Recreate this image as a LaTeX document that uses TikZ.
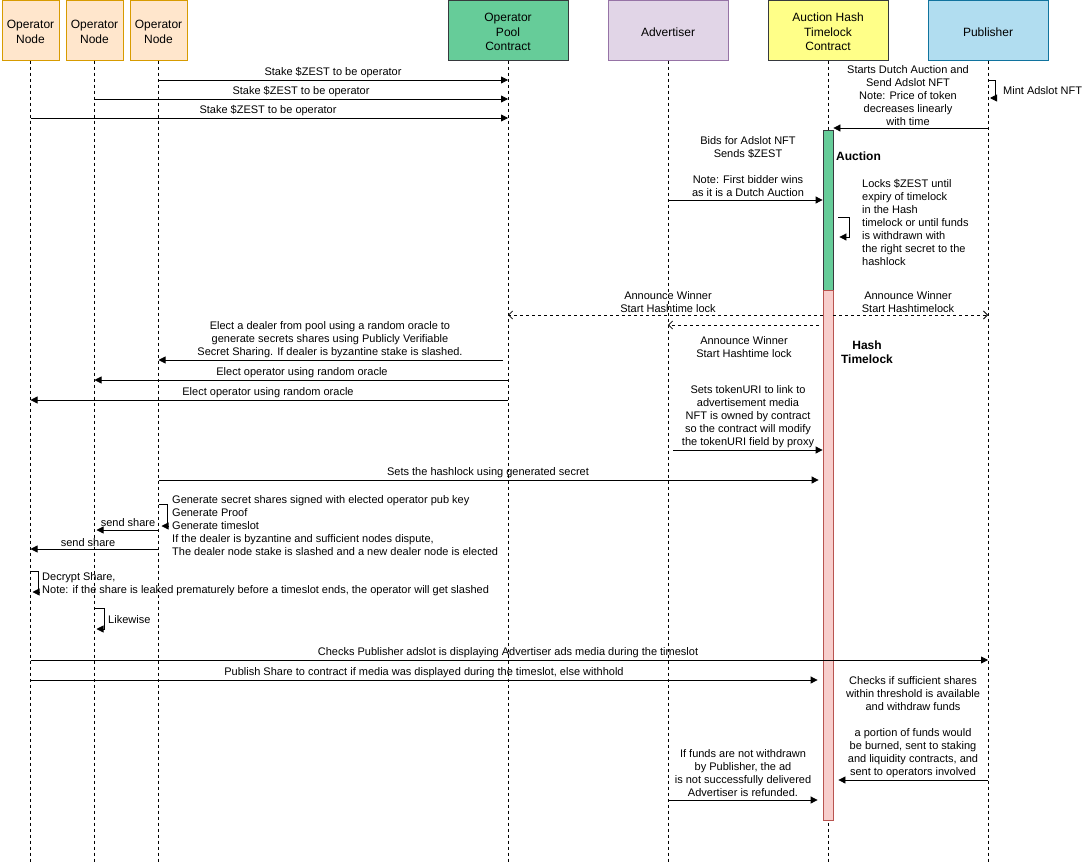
\documentclass[tikz,border=0pt]{standalone}
\usepackage{fontspec}
\setmainfont{Liberation Sans}
\usetikzlibrary{arrows.meta,calc}
\definecolor{opfill}{HTML}{FFE6CC}
\definecolor{opdraw}{HTML}{D79B00}
\definecolor{greenfill}{HTML}{66CC99}
\definecolor{darkline}{HTML}{36393D}
\definecolor{advfill}{HTML}{E1D5E7}
\definecolor{advdraw}{HTML}{9673A6}
\definecolor{yelfill}{HTML}{FFFF88}
\definecolor{pubfill}{HTML}{B1DDF0}
\definecolor{pubdraw}{HTML}{10739E}
\definecolor{redfill}{HTML}{F8CECC}
\definecolor{reddraw}{HTML}{B85450}
\begin{document}
\begin{tikzpicture}[x=1pt,y=-1pt,
  head/.style={draw, line width=1pt, minimum height=60pt, inner sep=0pt},
  headtxt/.style={align=center, inner sep=0pt, yshift=-2pt, font=\fontsize{12}{14.4}\selectfont},
  life/.style={line width=0.8pt, dash pattern=on 3pt off 3pt},
  msg/.style={line width=0.8pt, -{Triangle[length=7pt,width=7pt]}},
  ret/.style={line width=0.8pt, dash pattern=on 3pt off 3pt, -{Straight Barb[length=4pt,width=8pt]}},
  lbl/.style={font=\fontsize{11}{13}\selectfont, align=center, inner sep=0pt, yshift=-2pt},
  lbll/.style={lbl, align=left, anchor=west},
  boldlbl/.style={font=\fontsize{12}{14}\selectfont\bfseries, align=center, inner sep=0pt, yshift=-1pt}]
\useasboundingbox (0,0) rectangle (1083,862);
% headers
\node[head, fill=opfill, draw=opdraw, minimum width=57pt, label={[headtxt]center:{Operator\\Node}}] (n1) at (30.5,30) {};
\node[head, fill=opfill, draw=opdraw, minimum width=57pt, label={[headtxt]center:{Operator\\Node}}] (n2) at (94.5,30) {};
\node[head, fill=opfill, draw=opdraw, minimum width=57pt, label={[headtxt]center:{Operator\\Node}}] (n3) at (158.5,30) {};
\node[head, fill=greenfill, draw=darkline, minimum width=120pt, label={[headtxt]center:{Operator\\Pool\\Contract}}] (pool) at (508,30) {};
\node[head, fill=advfill, draw=advdraw, minimum width=120pt, label={[headtxt]center:{Advertiser}}] (adv) at (668,30) {};
\node[head, fill=yelfill, draw=darkline, minimum width=120pt, label={[headtxt]center:{Auction Hash\\Timelock\\Contract}}] (auc) at (828,30) {};
\node[head, fill=pubfill, draw=pubdraw, minimum width=120pt, label={[headtxt]center:{Publisher}}] (pub) at (988,30) {};
% lifelines
\foreach \n in {n1,n2,n3,pool,adv,auc,pub}
  \draw[life] (\n.south) -- (\n.south |- 0,862);
% activation bars
\node[draw=darkline, fill=greenfill, line width=0.8pt, minimum width=10pt, minimum height=160pt, inner sep=0pt, anchor=north] (act1) at (828,130) {};
\node[draw=reddraw, fill=redfill, line width=0.8pt, minimum width=10pt, minimum height=530pt, inner sep=0pt, anchor=north] (act2) at (828,290) {};
% staking
\draw[msg] (n3.south |- 0,80) -- (pool.south |- 0,80);
\node[lbl] (l1) at (333,71) {Stake \$ZEST to be operator};
\draw[msg] (n2.south |- 0,99) -- (pool.south |- 0,99);
\node[lbl] (l2) at (301,90) {Stake \$ZEST to be operator};
\draw[msg] (n1.south |- 0,118) -- (pool.south |- 0,118);
\node[lbl] (l3) at (268,109) {Stake \$ZEST to be operator};
% mint
\draw[msg] (pub.south |- 0,80) -- ++(7,0) -- ++(0,18) -- ++(-5,0);
\node[lbll] (l4) at (1003,89) {Mint Adslot NFT};
\draw[msg] (pub.south |- 0,128) -- (act1.east |- 0,128);
\node[lbl] (l5) at (908,94) {Starts Dutch Auction and\\Send Adslot NFT\\Note: Price of token\\decreases linearly\\with time};
% bids
\draw[msg] (adv.south |- 0,200) -- (act1.west |- 0,200);
\node[lbl] (l6) at (748,165) {Bids for Adslot NFT\\Sends \$ZEST\\\mbox{}\\Note: First bidder wins\\as it is a Dutch Auction};
\node[boldlbl, anchor=west] (l7) at (836,155) {Auction};
\draw[msg] ($(act1.east |- 0,217)+(5,0)$) -- ++(11,0) -- ++(0,20) -- ++(-10,0);
\node[lbll] (l8) at (862,220) {Locks \$ZEST until\\expiry of timelock\\in the Hash\\timelock or until funds\\is withdrawn with\\the right secret to the\\hashlock};
% announce
\draw[ret] (act2.west |- 0,315) -- (pool.south |- 0,315);
\node[lbl] (l9) at (668,300) {Announce Winner\\Start Hashtime lock};
\draw[ret] (act2.east |- 0,315) -- (pub.south |- 0,315);
\node[lbl] (l10) at (908,300) {Announce Winner\\Start Hashtimelock};
\draw[ret] ($(act2.west |- 0,325)+(-4,0)$) -- (adv.south |- 0,325);
\node[lbl] (l11) at (744,345) {Announce Winner\\Start Hashtime lock};
\node[boldlbl] (l12) at (867,351) {Hash\\Timelock};
% election
\draw[msg] ($(pool.south |- 0,360)+(-5,0)$) -- (n3.south |- 0,360);
\node[lbl] (l13) at (330,338) {Elect a dealer from pool using a random oracle to\\generate secrets shares using Publicly Verifiable\\Secret Sharing. If dealer is byzantine stake is slashed.};
\draw[msg] (pool.south |- 0,380) -- (n2.south |- 0,380);
\node[lbl] (l14) at (302,371) {Elect operator using random oracle};
\draw[msg] (pool.south |- 0,400) -- (n1.south |- 0,400);
\node[lbl] (l15) at (268,391) {Elect operator using random oracle};
% token URI
\draw[msg] ($(adv.south |- 0,450)+(5,0)$) -- (act2.west |- 0,450);
\node[lbl] (l16) at (748,415) {Sets tokenURI to link to\\advertisement media\\NFT is owned by contract\\so the contract will modify\\the tokenURI field by proxy};
\draw[msg] (n3.south |- 0,480) -- ($(act2.west |- 0,480)+(-4,0)$);
\node[lbl] (l17) at (488,471) {Sets the hashlock using generated secret};
% shares
\draw[msg] (n3.south |- 0,504) -- ++(9,0) -- ++(0,22) -- ++(-6,0);
\node[lbll] (l18) at (172,524) {Generate secret shares signed with elected operator pub key\\Generate Proof\\Generate timeslot\\If the dealer is byzantine and sufficient nodes dispute,\\The dealer node stake is slashed and a new dealer node is elected};
\draw[msg] (n3.south |- 0,530) -- ($(n2.south |- 0,530)+(2,0)$);
\node[lbl] (l19) at (128,521) {send share};
\draw[msg] (n3.south |- 0,549) -- (n1.south |- 0,549);
\node[lbl] (l20) at (88,541) {send share};
\draw[msg] (n1.south |- 0,571) -- ++(8,0) -- ++(0,21) -- ++(-6,0);
\node[lbll] (l21) at (42,582) {Decrypt Share,\\Note: if the share is leaked prematurely before a timeslot ends, the operator will get slashed};
\draw[msg] (n2.south |- 0,608) -- ++(10,0) -- ++(0,21) -- ++(-8,0);
\node[lbll] (l22) at (108,618) {Likewise};
% checks
\draw[msg] (n1.south |- 0,660) -- (pub.south |- 0,660);
\node[lbl] (l23) at (508,651) {Checks Publisher adslot is displaying Advertiser ads media during the timeslot};
\draw[msg] (n1.south |- 0,680) -- ($(act2.west |- 0,680)+(-5,0)$);
\node[lbl] (l24) at (424,671) {Publish Share to contract if media was displayed during the timeslot, else withhold};
\draw[msg] (pub.south |- 0,780) -- ($(act2.east |- 0,780)+(5,0)$);
\node[lbl] (l25) at (913,725) {Checks if sufficient shares\\within threshold is available\\and withdraw funds\\\mbox{}\\a portion of funds would\\be burned, sent to staking\\and liquidity contracts, and\\sent to operators involved};
\draw[msg] (adv.south |- 0,800) -- ($(act2.west |- 0,800)+(-5,0)$);
\node[lbl] (l26) at (743,771) {If funds are not withdrawn\\by Publisher, the ad\\is not successfully delivered\\Advertiser is refunded.};
\end{tikzpicture}
\end{document}
